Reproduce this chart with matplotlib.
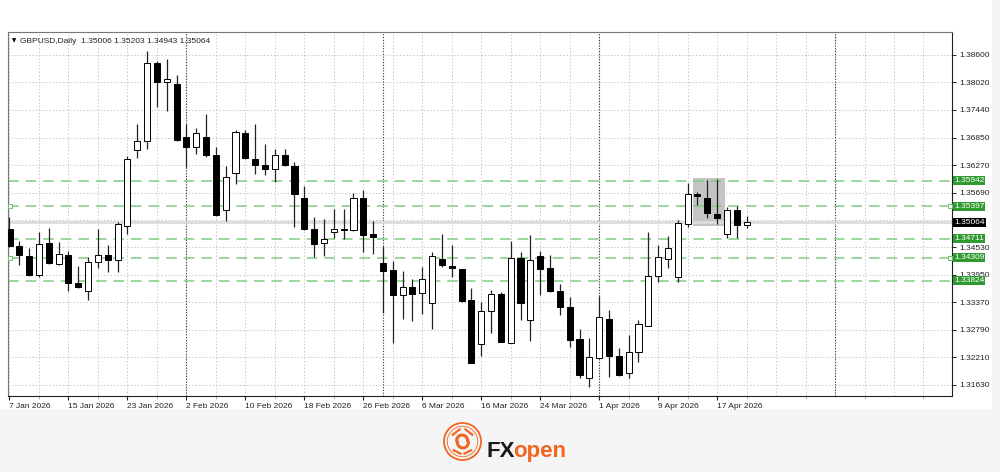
import numpy as np
import pandas as pd
import matplotlib
matplotlib.use('Agg')
import matplotlib.pyplot as plt
from matplotlib.patches import Rectangle, Circle

plt.rcParams['font.family'] = ['Liberation Sans', 'DejaVu Sans']

# GBPUSD daily candles, 7 Jan 2026 - 22 Apr 2026
opens = [1.3493, 1.3456, 1.3435, 1.3394, 1.3463, 1.3418, 1.3437, 1.3379, 1.3361, 1.3422,
         1.3437, 1.3427, 1.3499, 1.3659, 1.3678, 1.3843, 1.3802, 1.3798, 1.3686, 1.3664,
         1.3686, 1.3649, 1.3533, 1.3611, 1.3695, 1.3640, 1.3626, 1.3618, 1.3649, 1.3624,
         1.3558, 1.3493, 1.3463, 1.3485, 1.3491, 1.3489, 1.3557, 1.3481, 1.3421, 1.3405,
         1.3353, 1.3370, 1.3356, 1.3335, 1.3428, 1.3415, 1.3407, 1.3342, 1.3249, 1.3319,
         1.3355, 1.3252, 1.3430, 1.3301, 1.3435, 1.3409, 1.3362, 1.3328, 1.3259, 1.3178,
         1.3219, 1.3303, 1.3224, 1.3189, 1.3232, 1.3288, 1.3392, 1.3428, 1.3390, 1.3503,
         1.3565, 1.3558, 1.3523, 1.3482, 1.3533, 1.35006]
highs = [1.3517, 1.3466, 1.3451, 1.3486, 1.3495, 1.3464, 1.3446, 1.3413, 1.3433, 1.3491,
         1.3458, 1.3507, 1.3645, 1.3714, 1.3868, 1.3847, 1.3850, 1.3816, 1.3714, 1.3706,
         1.3734, 1.3665, 1.3624, 1.3701, 1.3700, 1.3713, 1.3672, 1.3661, 1.3661, 1.3633,
         1.3582, 1.3517, 1.3514, 1.3535, 1.3535, 1.3567, 1.3575, 1.3508, 1.3456, 1.3425,
         1.3403, 1.3386, 1.3411, 1.3444, 1.3482, 1.3458, 1.3408, 1.3368, 1.3338, 1.3363,
         1.3359, 1.3466, 1.3444, 1.3479, 1.3446, 1.3437, 1.3377, 1.3349, 1.3282, 1.3263,
         1.3350, 1.3321, 1.3242, 1.3268, 1.3300, 1.3486, 1.3458, 1.3477, 1.3510, 1.3590,
         1.3570, 1.3595, 1.3598, 1.3538, 1.3540, 1.35203]
lows = [1.3455, 1.3416, 1.3392, 1.3391, 1.3419, 1.3417, 1.3362, 1.3367, 1.3342, 1.3409,
        1.3401, 1.3402, 1.3482, 1.3642, 1.3661, 1.3749, 1.3742, 1.3678, 1.3623, 1.3651,
        1.3644, 1.3520, 1.3509, 1.3588, 1.3640, 1.3609, 1.3605, 1.3591, 1.3625, 1.3496,
        1.3490, 1.3433, 1.3435, 1.3472, 1.3470, 1.3488, 1.3444, 1.3439, 1.3314, 1.3252,
        1.3303, 1.3298, 1.3312, 1.3282, 1.3412, 1.3391, 1.3339, 1.3209, 1.3224, 1.3273,
        1.3253, 1.3251, 1.3300, 1.3256, 1.3352, 1.3359, 1.3310, 1.3244, 1.3177, 1.3159,
        1.3218, 1.3180, 1.3182, 1.3177, 1.3211, 1.3287, 1.3380, 1.3410, 1.3380, 1.3496,
        1.3542, 1.3516, 1.3503, 1.3474, 1.3472, 1.34943]
closes = [1.3456, 1.3438, 1.3394, 1.3461, 1.3420, 1.3440, 1.3379, 1.3369, 1.3423, 1.3438,
          1.3427, 1.3502, 1.3640, 1.3678, 1.3843, 1.3803, 1.3808, 1.3679, 1.3664, 1.3695,
          1.3649, 1.3521, 1.3601, 1.3696, 1.3641, 1.3626, 1.3619, 1.3649, 1.3626, 1.3565,
          1.3491, 1.3461, 1.3471, 1.3491, 1.3489, 1.3558, 1.3480, 1.3475, 1.3404, 1.3353,
          1.3370, 1.3355, 1.3387, 1.3436, 1.3416, 1.3410, 1.3340, 1.3210, 1.3319, 1.3355,
          1.3254, 1.3430, 1.3336, 1.3426, 1.3407, 1.3362, 1.3327, 1.3258, 1.3184, 1.3223,
          1.3306, 1.3224, 1.3184, 1.3232, 1.3291, 1.3393, 1.3433, 1.3452, 1.3505, 1.3565,
          1.3561, 1.3526, 1.3515, 1.3533, 1.3500, 1.35064]

dates = pd.bdate_range('2026-01-07', periods=len(opens))

price_ticks = [1.31630, 1.32210, 1.32790, 1.33370, 1.33950, 1.34530,
               1.35690, 1.36270, 1.36850, 1.37440, 1.38020, 1.38600]
levels = [1.35942, 1.35397, 1.34711, 1.34309, 1.33824]
marked_levels = [1.35397, 1.34309]
last_price = 1.35064
box_bars = (70, 72)
box_prices = (1.3498, 1.3600)
month_starts = [18, 38, 60, 84]

fig = plt.figure(figsize=(10, 4.72), dpi=100, facecolor='#f5f5f5')
fig.patches.append(Rectangle((0, 1 - 409 / 472), 0.992, 409 / 472, transform=fig.transFigure,
                             facecolor='white', edgecolor='none', zorder=-5))

ax = fig.add_axes([0.008, 0.161, 0.944, 0.771])
ax.set_facecolor('white')
ax.set_xlim(-0.15, 95.9)
ax.set_ylim(1.31397, 1.39074)

# grid
for p in price_ticks + [1.35110]:
    ax.axhline(p, color='#c8c8c8', lw=0.7, ls=(0, (1.5, 2)), zorder=0)
for i in range(0, 96, 3):
    ax.axvline(i, color='#c8c8c8', lw=0.7, ls=(0, (1.5, 2)), zorder=0)
for i in month_starts:
    ax.axvline(i, color='#333333', lw=0.8, ls=(0, (1, 1.5)), zorder=1)

# highlight box
ax.add_patch(Rectangle((box_bars[0] - 0.45, box_prices[0]), box_bars[1] - box_bars[0] + 1.3,
                       box_prices[1] - box_prices[0], facecolor='#c4c4c4', edgecolor='none',
                       zorder=1))

# current price line and levels
ax.axhline(last_price, color='#dcdcdc', lw=2, zorder=1)
for p in levels:
    ax.axhline(p, color='#82cc82', lw=1.1, ls=(0, (7, 4.5)), zorder=2)
for p in marked_levels:
    ax.plot([0.05, 95.7], [p, p], ls='none', marker='s', ms=2.8, mfc='white', mec='#6cbf6c',
            mew=0.7, zorder=3, clip_on=False)

# candles
x = np.arange(len(opens))
for i in x:
    o, h, l, c = opens[i], highs[i], lows[i], closes[i]
    ax.vlines(i, l, h, color='#222222', lw=0.9, zorder=4)
    fill = 'white' if c >= o else 'black'
    body = max(abs(c - o), 0.00006)
    ax.bar(i, body, bottom=min(o, c), width=0.62, color=fill, edgecolor='black', lw=0.7,
           zorder=5)

# axes styling
for side in ['left', 'top']:
    ax.spines[side].set_color('#777777')
for side in ['right', 'bottom']:
    ax.spines[side].set_color('#222222')
ax.yaxis.tick_right()
ax.set_yticks(price_ticks)
ax.set_yticklabels([f'{p:.5f}' for p in price_ticks])
ax.tick_params(axis='y', length=3, width=0.7, pad=2, labelsize=6, colors='#222222')

label_idx = list(range(0, len(opens), 6))
ax.set_xticks(label_idx)
ax.set_xticklabels([f'{dates[i].day} {dates[i]:%b %Y}' for i in label_idx], ha='left')
ax.set_xticks(range(3, 96, 6), minor=True)
ax.tick_params(axis='x', which='major', length=3, width=0.8, pad=2, labelsize=6,
               colors='#222222')
ax.tick_params(axis='x', which='minor', length=2, width=0.6, colors='#aaaaaa')

# price labels on the right
for p in levels:
    ax.annotate(f'{p:.5f}', xy=(1.0, p), xycoords=('axes fraction', 'data'),
                xytext=(1.5, 0), textcoords='offset points', ha='left', va='center',
                fontsize=6, color='white', annotation_clip=False,
                bbox=dict(boxstyle='square,pad=0.12', fc='#2f9a2f', ec='none'))
ax.annotate(f'{last_price:.5f}', xy=(1.0, last_price), xycoords=('axes fraction', 'data'),
            xytext=(1.5, 0), textcoords='offset points', ha='left', va='center',
            fontsize=6, color='white', annotation_clip=False,
            bbox=dict(boxstyle='square,pad=0.12', fc='black', ec='none'))

# header
ax.text(0.004, 0.982, '\u25bc', transform=ax.transAxes, fontsize=4, va='top',
        family=['DejaVu Sans'])
ax.text(0.013, 0.985, 'GBPUSD,Daily  %.5f %.5f %.5f %.5f' % (opens[-1], highs[-1], lows[-1], closes[-1]),
        transform=ax.transAxes, fontsize=6, va='top', color='#222222')

# FXopen logo
lax = fig.add_axes([0.443, 1 - 461 / 472, 0.039, 39 / 472])
lax.set_xlim(-1, 1)
lax.set_ylim(-1, 1)
lax.set_aspect('equal')
lax.axis('off')
orange = '#f26522'
lax.add_patch(Circle((0, 0), 0.95, fill=False, ec=orange, lw=1.3))
lax.add_patch(Circle((0, 0), 0.78, fill=False, ec=orange, lw=0.6))
t = np.linspace(0, np.pi, 30)
lax.plot(0.28 * np.cos(t) - 0.02, 0.28 * np.sin(t) + 0.05, color=orange, lw=2.2)
lax.plot(-0.28 * np.cos(t) + 0.02, -0.28 * np.sin(t) - 0.05, color=orange, lw=2.2)
lax.plot([-0.5, -0.15], [0.35, 0.62], color=orange, lw=1.6)
lax.plot([0.5, 0.15], [0.35, 0.62], color=orange, lw=1.6)
lax.plot([-0.45, -0.1], [-0.45, -0.62], color=orange, lw=1.6)
lax.plot([0.45, 0.1], [-0.45, -0.62], color=orange, lw=1.6)

fig.text(0.487, 1 - 457 / 472, 'FX', fontsize=16, fontweight='bold', color='#1a1a1a',
         va='baseline', ha='left')
fig.text(0.5135, 1 - 457 / 472, 'open', fontsize=16, fontweight='bold', color=orange,
         va='baseline', ha='left')

fig.savefig('out.png', dpi=100, facecolor=fig.get_facecolor())
